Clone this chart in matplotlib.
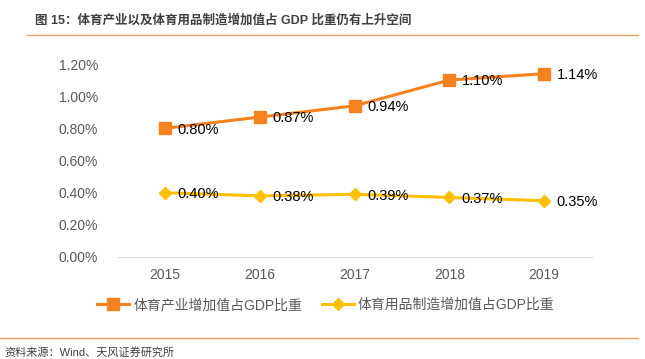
import matplotlib
matplotlib.use("Agg")
import matplotlib.pyplot as plt
from matplotlib.lines import Line2D

plt.rcParams['font.family'] = ['Liberation Sans', 'Noto Sans CJK SC', 'DejaVu Sans']

years = ['2015', '2016', '2017', '2018', '2019']
sport_industry = [0.80, 0.87, 0.94, 1.10, 1.14]
sport_goods = [0.40, 0.38, 0.39, 0.37, 0.35]
yticks = [0.0, 0.2, 0.4, 0.6, 0.8, 1.0, 1.2]

orange = '#F5821F'
yellow = '#FFC000'
gray = '#595959'

fig = plt.figure(figsize=(6.45, 3.59), dpi=100)
ax = fig.add_axes([117.5 / 645, 1 - 257 / 359, 474 / 645, 193 / 359])

x = list(range(len(years)))
ax.plot(x, sport_industry, color=orange, lw=2.2, marker='s', ms=8, label='体育产业增加值占GDP比重')
ax.plot(x, sport_goods, color=yellow, lw=2.2, marker='D', ms=6, label='体育用品制造增加值占GDP比重')

for xi, v in zip(x, sport_industry):
    ax.annotate(f'{v:.2f}%', (xi, v), xytext=(9, -1), textcoords='offset points',
                ha='left', va='center', fontsize=10.5, color='#000000')
for xi, v in zip(x, sport_goods):
    ax.annotate(f'{v:.2f}%', (xi, v), xytext=(9, -1), textcoords='offset points',
                ha='left', va='center', fontsize=10.5, color='#000000')

ax.set_xlim(-0.5, len(years) - 0.5)
ax.set_ylim(0, 1.2)
ax.set_xticks(x)
ax.set_xticklabels(years)
ax.set_yticks(yticks)
ax.set_yticklabels([f'{t:.2f}%' for t in yticks])
ax.tick_params(axis='both', length=0, labelsize=10, colors=gray, pad=8)
ax.tick_params(axis='y', pad=14)
for s in ['top', 'right', 'left']:
    ax.spines[s].set_visible(False)
ax.spines['bottom'].set_color('#D9D9D9')
for ln in ax.lines:
    ln.set_clip_on(False)

leg = fig.legend(loc='center', bbox_to_anchor=(326 / 645, 1 - 305 / 359), ncol=2, frameon=False,
                 fontsize=10, handlelength=2.3, columnspacing=1.4, handletextpad=0.3)
for t in leg.get_texts():
    t.set_color(gray)

fig.text(35 / 645, 1 - 20 / 359, '图 15：体育产业以及体育用品制造增加值占 GDP 比重仍有上升空间',
         fontsize=9, fontweight='bold', color='#404040', va='center', ha='left')
fig.add_artist(Line2D([27 / 645, 638 / 645], [1 - 35 / 359] * 2, color='#F0A060', lw=1))
fig.add_artist(Line2D([0, 638 / 645], [1 - 338 / 359] * 2, color='#F0A060', lw=1))
fig.text(4 / 645, 1 - 352 / 359, '资料来源：Wind、天风证券研究所', fontsize=8, color='#404040',
         va='center', ha='left')

fig.savefig('out.png', dpi=100)
